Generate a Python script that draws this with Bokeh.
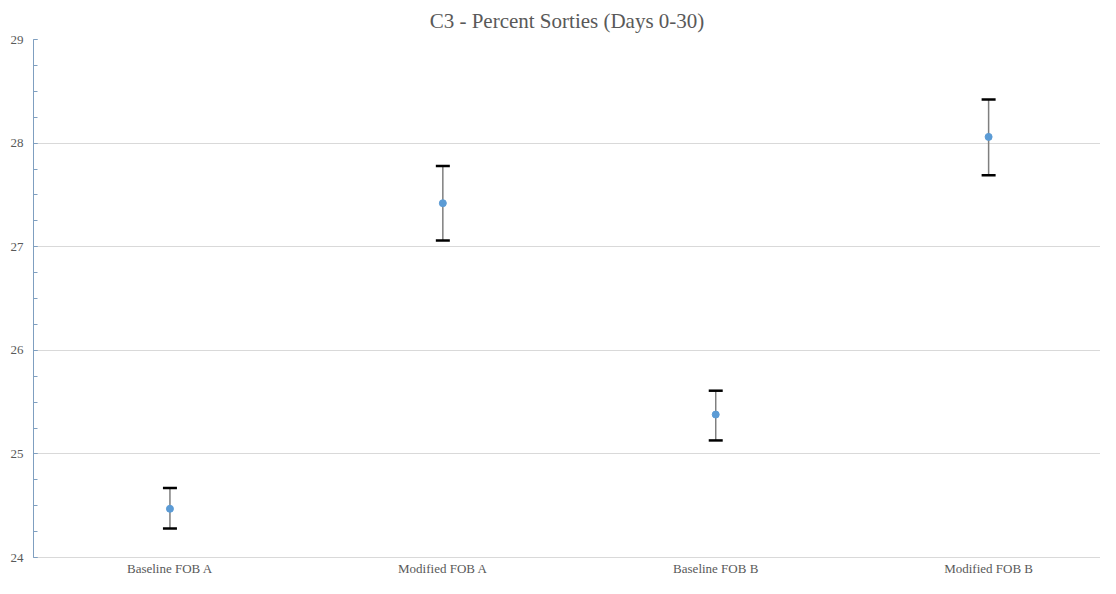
from bokeh.plotting import figure
from bokeh.models import Range1d, FixedTicker, Whisker, TeeHead, ColumnDataSource, Title, SingleIntervalTicker
from bokeh.embed import file_html
from bokeh.resources import INLINE

categories = ["Baseline FOB A", "Modified FOB A", "Baseline FOB B", "Modified FOB B"]
means = [24.47, 27.42, 25.38, 28.06]
upper = [24.67, 27.78, 25.61, 28.42]
lower = [24.28, 27.06, 25.13, 27.69]

xpos = [i + 0.5 for i in range(len(categories))]
src = ColumnDataSource(dict(x=xpos, mean=means, upper=upper, lower=lower))

SERIF = "Liberation Serif"
p = figure(width=1100, height=578, output_backend="svg", toolbar_location=None,
           x_range=Range1d(0, 3.91), y_range=Range1d(24, 29),
           min_border_left=33, min_border_right=0, min_border_bottom=20, min_border_top=2)
p.outline_line_color = None
p.title = Title(text="C3 - Percent Sorties (Days 0-30)", align="center",
                text_font=SERIF, text_font_size="21px", text_font_style="normal",
                text_color="#595959", offset=0, standoff=13)

w = Whisker(source=src, base="x", upper="upper", lower="lower", dimension="height",
            line_color="#7f7f7f", line_width=1.5,
            upper_head=TeeHead(size=14, line_width=2.5, line_color="black"),
            lower_head=TeeHead(size=14, line_width=2.5, line_color="black"))
p.add_layout(w)
p.scatter("x", "mean", source=src, size=7, color="#5b9bd5")

p.xaxis.ticker = FixedTicker(ticks=xpos)
p.xaxis.major_label_overrides = {x: c for x, c in zip(xpos, categories)}
p.xaxis.major_tick_line_color = None
p.xaxis.minor_tick_line_color = None
p.xaxis.major_tick_out = 0
p.xaxis.major_tick_in = 0
p.xaxis.minor_tick_out = 0
p.xaxis.axis_line_color = "#d9d9d9"
p.xaxis.major_label_text_font = SERIF
p.xaxis.major_label_text_font_size = "13px"
p.xaxis.major_label_text_color = "#595959"
p.xaxis.major_label_standoff = 3
p.xgrid.grid_line_color = None

p.yaxis.ticker = SingleIntervalTicker(interval=1, num_minor_ticks=4)
p.yaxis.axis_line_color = "#7f9fc0"
p.yaxis.major_tick_line_color = "#7f9fc0"
p.yaxis.minor_tick_line_color = "#7f9fc0"
p.yaxis.major_tick_in = 4
p.yaxis.major_tick_out = 0
p.yaxis.minor_tick_in = 4
p.yaxis.minor_tick_out = 0
p.yaxis.major_label_text_font = SERIF
p.yaxis.major_label_text_font_size = "13px"
p.yaxis.major_label_text_color = "#595959"
p.yaxis.major_label_standoff = 10
p.ygrid.grid_line_color = "#d9d9d9"
p.ygrid.ticker = SingleIntervalTicker(interval=1)

open("out.html", "w").write(file_html(p, INLINE))
